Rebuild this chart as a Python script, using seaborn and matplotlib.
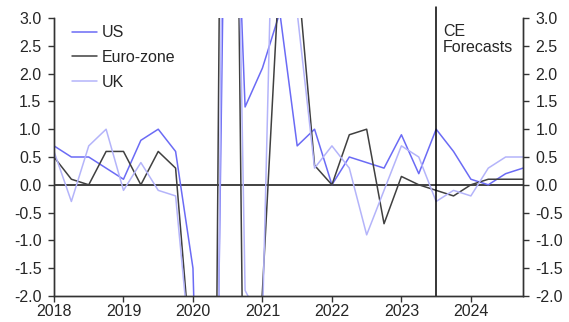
import numpy as np
import pandas as pd
import matplotlib
matplotlib.use("Agg")
import matplotlib.pyplot as plt
import seaborn as sns

# ==============================
# Data (q/q %, quarterly 2018Q1 - 2024Q4)
# ==============================
years = [2018, 2019, 2020, 2021, 2022, 2023, 2024]
quarters = [1, 2, 3, 4]

us = [0.7, 0.5, 0.5, 0.3,
      0.1, 0.8, 1.0, 0.6,
      -1.5, -13.0, 9.6, 1.4,
      2.1, 3.1, 0.7, 1.0,
      0.0, 0.5, 0.4, 0.3,
      0.9, 0.2, 1.0, 0.6,
      0.1, 0.0, 0.2, 0.3]

euro_zone = [0.5, 0.1, 0.0, 0.6,
             0.6, 0.0, 0.6, 0.3,
             -3.5, -16.7, 22.0, -7.0,
             -1.9, 4.0, 3.9, 0.35,
             0.0, 0.9, 1.0, -0.7,
             0.15, 0.0, -0.1, -0.2,
             0.0, 0.1, 0.1, 0.1]

uk = [0.6, -0.3, 0.7, 1.0,
      -0.1, 0.4, -0.1, -0.2,
      -3.5, -19.0, 16.0, -1.9,
      -2.5, 10.5, 3.1, 0.3,
      0.7, 0.3, -0.9, -0.1,
      0.7, 0.5, -0.3, -0.1,
      -0.2, 0.3, 0.5, 0.5]

y_ticks = [-2.0, -1.5, -1.0, -0.5, 0.0, 0.5, 1.0, 1.5, 2.0, 2.5, 3.0]
forecast_start = 2023.5

dates = [y + (q - 1) / 4 for y in years for q in quarters]
df = pd.DataFrame({"date": dates, "US": us, "Euro-zone": euro_zone, "UK": uk})
long_df = df.melt(id_vars="date", var_name="series", value_name="value")

# ==============================
# Plot
# ==============================
sns.set_style("ticks")
plt.rcParams["font.family"] = ["Liberation Sans", "DejaVu Sans"]
plt.rcParams["font.size"] = 11.5

fig = plt.figure(figsize=(5.69, 3.22), dpi=100)
ax = fig.add_axes([54 / 569, 1 - 296 / 322, (523 - 54) / 569, (296 - 18) / 322])

palette = {"US": "#6b6bf5", "Euro-zone": "#404040", "UK": "#b4b4fa"}
sns.lineplot(data=long_df, x="date", y="value", hue="series",
             hue_order=["US", "Euro-zone", "UK"], palette=palette,
             linewidth=1.1, ax=ax)

ax.axhline(0, color="#333333", linewidth=1.3, zorder=1)
ax.axvline(forecast_start, ymin=0, ymax=1.04, color="black", linewidth=1.1,
           clip_on=False)
ax.text(forecast_start + 0.1, 2.9, "CE\nForecasts", ha="left", va="top",
        fontsize=11.5, linespacing=1.15)

ax.set_xlim(years[0], years[-1] + 0.75)
ax.set_ylim(-2, 3)
ax.set_xticks(years)
ax.set_xticklabels([str(y) for y in years])
ax.set_yticks(y_ticks)
ax.set_yticklabels([f"{v:.1f}" for v in y_ticks])
ax.set_xlabel("")
ax.set_ylabel("")

ax2 = ax.twinx()
ax2.set_ylim(-2, 3)
ax2.set_yticks(y_ticks)
ax2.set_yticklabels([f"{v:.1f}" for v in y_ticks])

for a in (ax, ax2):
    a.spines["top"].set_visible(False)
    for s in ("left", "right", "bottom"):
        a.spines[s].set_color("#333333")
        a.spines[s].set_linewidth(1.0)
    a.tick_params(axis="y", length=4, width=1.0, color="#333333",
                  labelsize=11.5, pad=5)
ax.tick_params(axis="x", length=4, width=1.0, color="#333333",
               labelsize=11.5, pad=2)

leg = ax.legend(loc="upper left", frameon=False, handlelength=1.55,
                handletextpad=0.3, labelspacing=0.6, fontsize=11.5,
                bbox_to_anchor=(0.008, 1.025))

fig.savefig("out.png", dpi=100)
